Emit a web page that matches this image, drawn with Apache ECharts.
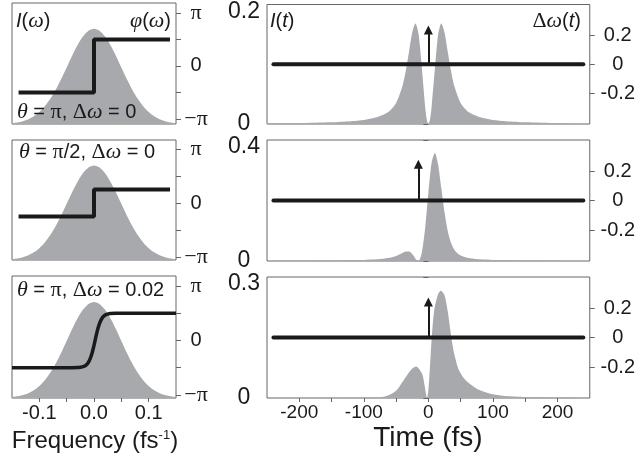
<!DOCTYPE html>
<html><head><meta charset="utf-8">
<script src="https://cdn.jsdelivr.net/npm/echarts@6/dist/echarts.min.js"></script>
<style>html,body{margin:0;padding:0;background:#fff}#c{width:638px;height:461px}</style>
</head><body><div id="c"></div>
<script>
// ---------- data ----------
const freqW = [-0.15,-0.14,-0.13,-0.12,-0.11,-0.10,-0.09,-0.08,-0.07,-0.06,-0.05,-0.04,-0.03,-0.02,-0.01,0,
               0.01,0.02,0.03,0.04,0.05,0.06,0.07,0.08,0.09,0.10,0.11,0.12,0.13,0.14,0.15];
const specI = [0.009,0.017,0.030,0.050,0.081,0.125,0.185,0.264,0.360,0.472,0.594,0.717,0.829,0.920,0.979,1.000,
               0.979,0.920,0.829,0.717,0.594,0.472,0.360,0.264,0.185,0.125,0.081,0.050,0.030,0.017,0.009];

const phiW1 = [-0.138, 0, 0, 0.139];
const phi1  = [-1.571, -1.571, 1.571, 1.571];
const phiW2 = [-0.138, 0, 0, 0.139];
const phi2  = [-0.785, -0.785, 0.785, 0.785];
const phiW3 = [-0.15,-0.04,-0.03,-0.025,-0.02,-0.015,-0.01,-0.005,0,0.005,0.01,0.015,0.02,0.025,0.03,0.04,0.05,0.15];
const phi3  = [-1.571,-1.569,-1.562,-1.548,-1.514,-1.435,-1.252,-0.884,-0.283,0.418,0.976,1.300,1.456,1.524,1.552,1.568,1.571,1.571];

const t1 = [-250,-200,-150,-120,-100,-80,-70,-60,-50,-40,-35,-30,-25,-20,-15,-10,-5,-2.5,0,2.5,5,10,15,20,25,30,35,40,50,60,70,80,100,120,150,200,250];
const I1 = [0.0011,0.0017,0.0030,0.0048,0.0069,0.0114,0.0153,0.0218,0.035,0.064,0.089,0.121,0.153,0.168,0.149,0.092,0.029,0.0076,0,
            0.0076,0.029,0.092,0.149,0.168,0.153,0.121,0.089,0.064,0.035,0.0218,0.0153,0.0114,0.0069,0.0048,0.0030,0.0017,0.0011];

const t2 = [-250,-200,-150,-120,-100,-80,-70,-60,-50,-45,-40,-35,-30,-25,-20,-17.5,-15.8,-14,-10,-5,0,5,10,15,20,25,30,35,40,45,50,60,70,80,100,120,150,200,250];
const I2 = [0.0005,0.0009,0.0015,0.0024,0.0035,0.0057,0.0076,0.0109,0.0169,0.0216,0.0267,0.0312,0.0313,0.0231,0.0078,0.0015,0,0.0023,0.0284,0.109,
            0.2254,0.325,0.357,0.320,0.241,0.161,0.099,0.060,0.0377,0.0254,0.0181,0.011,0.0076,0.0057,0.0035,0.0024,0.0015,0.0009,0.0005];

const t3 = [-250,-150,-100,-80,-70,-60,-50,-45,-40,-32,-25,-19,-14,-9,-6,-3,-2,0,2,5,9,15,19.5,25,30,36,40,47,55,65,75,84,100,120,150,200,250];
const I3 = [0,0.0002,0.0006,0.0015,0.003,0.008,0.018,0.028,0.040,0.059,0.073,0.078,0.071,0.057,0.032,0.004,0,0.02,0.065,0.145,
            0.217,0.258,0.266,0.255,0.215,0.145,0.110,0.070,0.049,0.034,0.023,0.017,0.0095,0.005,0.0025,0.001,0.0005];

const dwT = [-240, 240];
const dwV = [0, 0];
const arrowT = [0, -15.5, 0];
const arrowTop = [0.235, 0.245, 0.24];

const intensityMax = [0.2, 0.4, 0.3];
const phaseTicks = [-Math.PI, -Math.PI/2, 0, Math.PI/2, Math.PI];
const phaseLabels = [-Math.PI, 0, Math.PI];
const freqTicks = [-0.1, -0.05, 0, 0.05, 0.1];
const freqLabels = [-0.1, 0, 0.1];
const timeTicks = [-200,-150,-100,-50,0,50,100,150,200];
const timeLabels = [-200,-100,0,100,200];
const dwTicks = [-0.2, 0, 0.2];
const phaseRange = [[-3.44, 3.73], [-3.32, 3.67], [-3.32, 3.72]];

// ---------- style ----------
const SANS = 'Liberation Sans', SERIF = 'Liberation Serif';
const INK = '#1a1a1a', FRAME = '#666', FILL = '#a7a9ac';
const zip = (a, b) => a.map((v, i) => [v, b[i]]);

const grids = [
  {left: 12, top: 3, width: 164, height: 121},
  {left: 12, top: 140, width: 164, height: 120},
  {left: 12, top: 276, width: 164, height: 122},
  {left: 267, top: 3, width: 324, height: 121},
  {left: 267, top: 140, width: 324, height: 121},
  {left: 267, top: 277, width: 324, height: 121}
].map(g => Object.assign({show: true, borderColor: FRAME, borderWidth: 1, backgroundColor: 'transparent'}, g));

function xAx(gi, min, max, ticks, labels, fmt, fs) {
  return {
    type: 'value', gridIndex: gi, min, max,
    axisLine: {show: false}, splitLine: {show: false},
    axisTick: ticks ? {show: true, customValues: ticks, length: 4, lineStyle: {color: FRAME}} : {show: false},
    axisLabel: labels ? {show: true, customValues: labels, formatter: fmt, margin: 5,
      fontFamily: SANS, fontSize: fs, color: INK} : {show: false}
  };
}

const xAxis = [
  xAx(0, -0.15, 0.15), xAx(1, -0.15, 0.15),
  xAx(2, -0.15, 0.15, freqTicks, freqLabels, v => v.toFixed(1), 20),
  xAx(3, -250, 250), xAx(4, -250, 250),
  xAx(5, -250, 250, timeTicks, timeLabels, v => String(v), 19)
];

const yAxis = [];
for (let i = 0; i < 3; i++) {
  yAxis.push({type: 'value', gridIndex: i, position: 'left', min: 0, max: 1.27,
    axisLine: {show: false}, axisTick: {show: false}, axisLabel: {show: false}, splitLine: {show: false}});
  yAxis.push({type: 'value', gridIndex: i, position: 'right', min: phaseRange[i][0], max: phaseRange[i][1],
    axisLine: {show: false}, splitLine: {show: false},
    axisTick: {show: true, customValues: phaseTicks, length: 5, lineStyle: {color: FRAME}},
    axisLabel: {show: true, customValues: phaseLabels, align: 'center', margin: 20,
      fontFamily: SANS, fontSize: 20, color: INK,
      formatter: v => Math.abs(v) < 1e-9 ? '0' : (v < 0 ? '{p|\u2212\u03C0}' : '{p|\u03C0}'),
      rich: {p: {fontFamily: SERIF, fontSize: 22, color: INK}}}});
}
for (let j = 0; j < 3; j++) {
  const M = intensityMax[j];
  yAxis.push({type: 'value', gridIndex: 3 + j, position: 'left', min: 0, max: M,
    axisLine: {show: false}, splitLine: {show: false},
    axisTick: {show: true, customValues: [0, M / 2, M], length: 5, lineStyle: {color: FRAME}},
    axisLabel: {show: true, customValues: [0, M], align: 'center', margin: 23, fontFamily: SANS, fontSize: 23, color: INK,
      formatter: v => v === 0 ? '0' : '{t|' + v + '}',
      rich: {t: {padding: [14, 0, 0, 0], fontFamily: SANS, fontSize: 23, color: INK}}}});
  yAxis.push({type: 'value', gridIndex: 3 + j, position: 'right', min: -0.41, max: 0.41,
    axisLine: {show: false}, splitLine: {show: false},
    axisTick: {show: true, customValues: dwTicks, length: 5, lineStyle: {color: FRAME}},
    axisLabel: {show: true, customValues: dwTicks, align: 'center', margin: 28,
      fontFamily: SANS, fontSize: 20, color: INK,
      formatter: v => v === 0 ? '0' : v.toFixed(1)}});
}

const phW = [phiW1, phiW2, phiW3], ph = [phi1, phi2, phi3];
const tT = [t1, t2, t3], tI = [I1, I2, I3];
const series = [];
for (let i = 0; i < 3; i++) {
  series.push({type: 'line', xAxisIndex: i, yAxisIndex: 2 * i, data: zip(freqW, specI), smooth: 0.3,
    symbol: 'none', silent: true, lineStyle: {width: 0}, areaStyle: {color: FILL, opacity: 1}, z: 1});
  series.push({type: 'line', xAxisIndex: i, yAxisIndex: 2 * i + 1, data: zip(phW[i], ph[i]),
    smooth: i === 2 ? 0.4 : false, symbol: 'none', silent: true,
    lineStyle: {width: i === 2 ? 3.5 : 4, color: INK}, z: 3});
}
for (let j = 0; j < 3; j++) {
  series.push({type: 'line', xAxisIndex: 3 + j, yAxisIndex: 6 + 2 * j, data: zip(tT[j], tI[j]), smooth: 0.25,
    symbol: 'none', silent: true, lineStyle: {width: 0}, areaStyle: {color: FILL, opacity: 1}, z: 1});
  series.push({type: 'line', xAxisIndex: 3 + j, yAxisIndex: 7 + 2 * j, data: zip(dwT, dwV),
    symbol: 'none', silent: true, lineStyle: {width: 4, color: INK, cap: 'round'}, z: 3,
    markLine: {silent: true, animation: false, symbol: ['none', 'triangle'], symbolSize: [9, 9],
      label: {show: false}, lineStyle: {color: INK, width: 2, type: 'solid'},
      data: [[{coord: [arrowT[j], 0]}, {coord: [arrowT[j], arrowTop[j]]}]]}});
}

const rich = {
  si: {fontFamily: SANS, fontStyle: 'italic', fontSize: 20, fill: INK},
  gi: {fontFamily: SERIF, fontStyle: 'italic', fontSize: 22, fill: INK},
  g: {fontFamily: SERIF, fontSize: 22, fill: INK},
  n: {fontFamily: SANS, fontSize: 24, fill: INK},
  sup: {fontFamily: SANS, fontSize: 13, fill: INK, verticalAlign: 'top'}
};
function txt(x, y, text, align, extra) {
  return {type: 'text', x, y, z: 100, silent: true,
    style: Object.assign({text, rich, align: align || 'left', verticalAlign: 'middle',
      fontFamily: SANS, fontSize: 20, fill: INK}, extra || {})};
}
const graphic = [
  txt(16, 21, '{si|I}({gi|\u03C9})'),
  txt(171, 21, '{gi|\u03C6}({gi|\u03C9})', 'right'),
  txt(17, 112, '{gi|\u03B8} = {g|\u03C0}, {g|\u0394}{gi|\u03C9} = 0'),
  txt(19, 152, '{gi|\u03B8} = {g|\u03C0}/2, {g|\u0394}{gi|\u03C9} = 0'),
  txt(17, 290, '{gi|\u03B8} = {g|\u03C0}, {g|\u0394}{gi|\u03C9} = 0.02'),
  txt(270, 21, '{si|I}({si|t})'),
  txt(581, 21, '{g|\u0394}{gi|\u03C9}({si|t})', 'right'),
  txt(95, 441, '{n|Frequency (fs}{sup|-1}{n|)}', 'center'),
  txt(428, 438, 'Time (fs)', 'center', {fontSize: 28})
];

const chart = echarts.init(document.getElementById('c'), null, {renderer: 'canvas'});
chart.setOption({animation: false, grid: grids, xAxis, yAxis, series, graphic});
</script></body></html>
